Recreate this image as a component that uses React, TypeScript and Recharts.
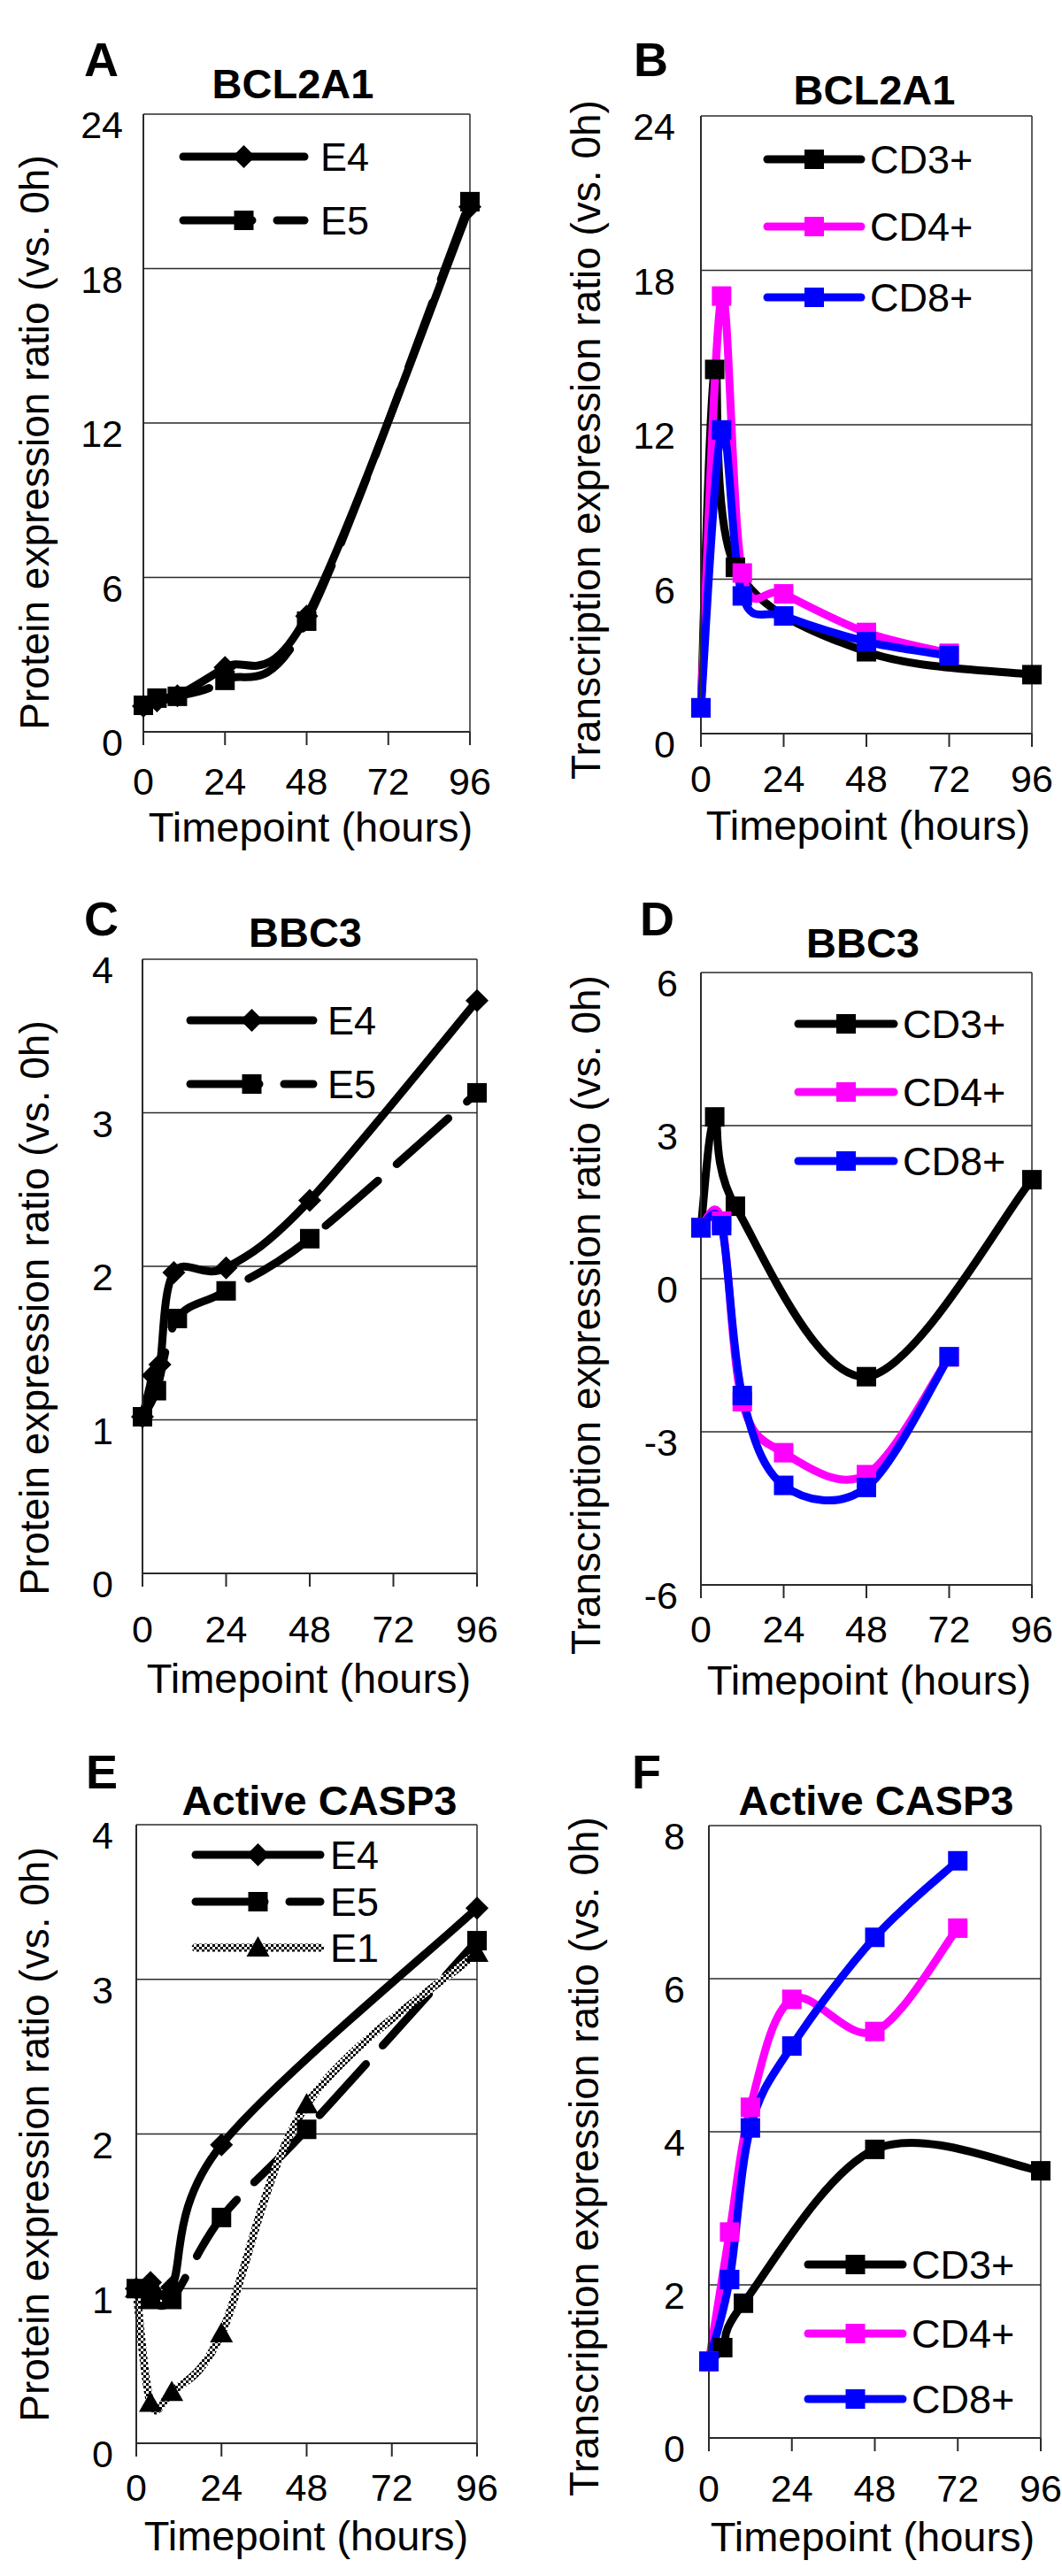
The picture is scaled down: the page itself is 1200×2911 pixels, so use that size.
import React from "react";
import { CartesianGrid, Legend, Line, LineChart, ReferenceLine, XAxis, YAxis } from "recharts";

const FONT = '"Liberation Sans", Arial, Helvetica, sans-serif';

// timepoints (hours)
const eTimes = [0, 4, 10, 24, 48, 96];
const bbc3E4Times = [0, 3, 5, 9, 24, 48, 96];
const casp3E4Times = [0, 4, 10, 24, 96];
const cd3Times = [0, 4, 10, 48, 96];
const cd48Times = [0, 6, 12, 24, 48, 72];

const xTicks = [0, 24, 48, 72, 96];
const ticks24 = [0, 6, 12, 18, 24];
const ticks4 = [0, 1, 2, 3, 4];
const ticks6 = [-6, -3, 0, 3, 6];
const ticks8 = [0, 2, 4, 6, 8];

// A - BCL2A1 protein
const bcl2a1E4 = [1.0, 1.2, 1.4, 2.5, 4.5, 20.4];
const bcl2a1E5 = [1.03, 1.31, 1.38, 2.0, 4.3, 20.6];
// B - BCL2A1 transcription
const bcl2a1CD3 = [1.0, 14.15, 6.46, 3.18, 2.29];
const bcl2a1CD4 = [1.0, 17.0, 6.24, 5.43, 3.93, 3.12];
const bcl2a1CD8 = [1.0, 11.8, 5.35, 4.57, 3.57, 3.03];
// C - BBC3 protein
const bbc3E4 = [1.02, 1.29, 1.36, 1.96, 1.99, 2.43, 3.73];
const bbc3E5 = [1.02, 1.19, 1.66, 1.84, 2.18, 3.13];
// D - BBC3 transcription
const bbc3CD3 = [1.0, 3.17, 1.42, -1.92, 1.94];
const bbc3CD4 = [1.0, 1.13, -2.41, -3.41, -3.84, -1.53];
const bbc3CD8 = [1.0, 1.04, -2.29, -4.05, -4.09, -1.53];
// E - active CASP3 protein
const casp3E4 = [1.0, 1.04, 1.01, 1.93, 3.46];
const casp3E5 = [1.0, 0.93, 0.93, 1.46, 2.03, 3.25];
const casp3E1 = [1.0, 0.26, 0.33, 0.71, 2.19, 3.17];
// F - active CASP3 transcription
const casp3CD3 = [1.0, 1.18, 1.76, 3.77, 3.49];
const casp3CD4 = [1.0, 2.69, 4.32, 5.73, 5.31, 6.66];
const casp3CD8 = [1.0, 2.07, 4.05, 5.12, 6.54, 7.54];

const toRows = (times: number[], vals: number[]) => times.map((t, i) => ({ t, v: vals[i] }));

// excel-like smoothed line (catmull-rom bezier)
const smooth: any = (context: any) => {
    let pts: number[][] = [];
    return {
        areaStart() {},
        areaEnd() {},
        lineStart() {
            pts = [];
        },
        lineEnd() {
            const n = pts.length;
            if (!n) return;
            context.moveTo(pts[0][0], pts[0][1]);
            for (let i = 0; i < n - 1; i++) {
                const p0 = pts[Math.max(i - 1, 0)];
                const p1 = pts[i];
                const p2 = pts[i + 1];
                const p3 = pts[Math.min(i + 2, n - 1)];
                context.bezierCurveTo(
                    p1[0] + (p2[0] - p0[0]) / 6,
                    p1[1] + (p2[1] - p0[1]) / 6,
                    p2[0] - (p3[0] - p1[0]) / 6,
                    p2[1] - (p3[1] - p1[1]) / 6,
                    p2[0],
                    p2[1]
                );
            }
        },
        point(x: number, y: number) {
            pts.push([+x, +y]);
        },
    };
};

type Series = {
    name: string;
    times: number[];
    values: number[];
    color: string;
    marker: "square" | "diamond" | "triangle";
    dash?: string;
    checker?: boolean;
};

function Marker({ kind, cx, cy, color }: { kind: string; cx: number; cy: number; color: string }) {
    if (kind === "diamond")
        return <polygon points={`${cx},${cy - 13} ${cx + 13},${cy} ${cx},${cy + 13} ${cx - 13},${cy}`} fill={color} />;
    if (kind === "triangle")
        return <polygon points={`${cx},${cy - 13} ${cx + 13},${cy + 10} ${cx - 13},${cy + 10}`} fill={color} />;
    return <rect x={cx - 11} y={cy - 11} width={22} height={22} fill={color} />;
}

const E4 = (times: number[], values: number[]): Series => ({ name: "E4", times, values, color: "#000", marker: "diamond" });
const E5 = (times: number[], values: number[]): Series => ({ name: "E5", times, values, color: "#000", marker: "square", dash: "78 28" });
const E1 = (times: number[], values: number[]): Series => ({ name: "E1", times, values, color: "#000", marker: "triangle", checker: true });
const CD3 = (times: number[], values: number[]): Series => ({ name: "CD3+", times, values, color: "#000", marker: "square" });
const CD4 = (times: number[], values: number[]): Series => ({ name: "CD4+", times, values, color: "#ff00ff", marker: "square" });
const CD8 = (times: number[], values: number[]): Series => ({ name: "CD8+", times, values, color: "#0000ff", marker: "square" });

const PROT = "Protein expression ratio (vs. 0h)";
const TRANS = "Transcription expression ratio (vs. 0h)";

const panels = [
    {
        id: "A", ox: 0, oy: 0, w: 600, h: 970,
        plot: { left: 162, right: 531, top: 129, bottom: 827 },
        yDomain: [0, 24], yTicks: ticks24, yGap: 23, xTickDy: 56,
        letter: { x: 95, y: 86 }, title: { text: "BCL2A1", x: 331, y: 111 },
        yTitle: { text: PROT, x: 55, y: 500 }, xTitle: { x: 351, y: 951 },
        legend: { x1: 207, x2: 344, textX: 362, rows: [177, 249] },
        series: [E4(eTimes, bcl2a1E4), E5(eTimes, bcl2a1E5)],
    },
    {
        id: "B", ox: 600, oy: 0, w: 600, h: 970,
        plot: { left: 792, right: 1166, top: 131, bottom: 829 },
        yDomain: [0, 24], yTicks: ticks24, yGap: 29, xTickDy: 51,
        letter: { x: 716, y: 86 }, title: { text: "BCL2A1", x: 988, y: 118 },
        yTitle: { text: TRANS, x: 678, y: 497 }, xTitle: { x: 981, y: 949 },
        legend: { x1: 867, x2: 973, textX: 983, rows: [180, 256, 336] },
        series: [CD3(cd3Times, bcl2a1CD3), CD4(cd48Times, bcl2a1CD4), CD8(cd48Times, bcl2a1CD8)],
    },
    {
        id: "C", ox: 0, oy: 970, w: 600, h: 970,
        plot: { left: 161, right: 539, top: 1084, bottom: 1778 },
        yDomain: [0, 4], yTicks: ticks4, yGap: 33, xTickDy: 63,
        letter: { x: 95, y: 1057 }, title: { text: "BBC3", x: 345, y: 1070 },
        yTitle: { text: PROT, x: 55, y: 1478 }, xTitle: { x: 349, y: 1913 },
        legend: { x1: 215, x2: 354, textX: 370, rows: [1153, 1225] },
        series: [E4(bbc3E4Times, bbc3E4), E5(eTimes, bbc3E5)],
    },
    {
        id: "D", ox: 600, oy: 970, w: 600, h: 970,
        plot: { left: 792, right: 1166, top: 1099, bottom: 1791 },
        yDomain: [-6, 6], yTicks: ticks6, yGap: 26, xTickDy: 50,
        letter: { x: 723, y: 1057 }, title: { text: "BBC3", x: 975, y: 1082 },
        yTitle: { text: TRANS, x: 678, y: 1486 }, xTitle: { x: 982, y: 1915 },
        legend: { x1: 902, x2: 1010, textX: 1020, rows: [1157, 1234, 1312] },
        series: [CD3(cd3Times, bbc3CD3), CD4(cd48Times, bbc3CD4), CD8(cd48Times, bbc3CD8)],
    },
    {
        id: "E", ox: 0, oy: 1940, w: 600, h: 971,
        plot: { left: 154, right: 539, top: 2062, bottom: 2761 },
        yDomain: [0, 4], yTicks: ticks4, yGap: 26, xTickDy: 50,
        letter: { x: 97, y: 2021 }, title: { text: "Active CASP3", x: 361, y: 2051 },
        yTitle: { text: PROT, x: 55, y: 2412 }, xTitle: { x: 346, y: 2882 },
        legend: { x1: 221, x2: 362, textX: 373, rows: [2096, 2149, 2201] },
        series: [E4(casp3E4Times, casp3E4), E5(eTimes, casp3E5), E1(eTimes, casp3E1)],
    },
    {
        id: "F", ox: 600, oy: 1940, w: 600, h: 971,
        plot: { left: 801, right: 1176, top: 2063, bottom: 2755 },
        yDomain: [0, 8], yTicks: ticks8, yGap: 27, xTickDy: 57,
        letter: { x: 714, y: 2021 }, title: { text: "Active CASP3", x: 990, y: 2051 },
        yTitle: { text: TRANS, x: 676, y: 2437 }, xTitle: { x: 986, y: 2883 },
        legend: { x1: 913, x2: 1020, textX: 1030, rows: [2559, 2637, 2711] },
        series: [CD3(cd3Times, casp3CD3), CD4(cd48Times, casp3CD4), CD8(cd48Times, casp3CD8)],
    },
];

const Y_W = 60;
const X_H = 60;
const TICK_FS = 43;
const X_TICK = 15;

function CheckerDef({ id }: { id: string }) {
    return (
        <pattern id={id} width={6} height={6} patternUnits="userSpaceOnUse">
            <rect width={6} height={6} fill="#fff" />
            <rect width={3} height={3} fill="#000" />
            <rect x={3} y={3} width={3} height={3} fill="#000" />
        </pattern>
    );
}

function Panel({ p }: { p: (typeof panels)[number] }) {
    const margin = {
        top: p.plot.top - p.oy,
        left: p.plot.left - p.ox - Y_W,
        right: p.ox + p.w - p.plot.right,
        bottom: p.oy + p.h - p.plot.bottom - X_H,
    };
    const lg = p.legend;
    const lgLeft = lg.x1 - p.ox - 20;
    const lgTop = lg.rows[0] - p.oy - 40;
    const lgW = 300;
    const lgH = lg.rows[lg.rows.length - 1] - lg.rows[0] + 80;
    const checkerId = `checker-${p.id}`;

    const renderLegend = () => (
        <svg width={lgW} height={lgH} style={{ display: "block", overflow: "visible" }}>
            <defs>
                <CheckerDef id={`${checkerId}-lg`} />
            </defs>
            {p.series.map((s, i) => {
                const y = lg.rows[i] - p.oy - lgTop;
                const x1 = lg.x1 - p.ox - lgLeft;
                const x2 = lg.x2 - p.ox - lgLeft;
                return (
                    <g key={s.name}>
                        <line
                            x1={x1}
                            x2={x2}
                            y1={y}
                            y2={y}
                            stroke={s.checker ? `url(#${checkerId}-lg)` : s.color}
                            strokeWidth={9}
                            strokeLinecap="round"
                            strokeDasharray={s.dash}
                        />
                        <Marker kind={s.marker} cx={(x1 + x2) / 2} cy={y} color={s.color} />
                        <text
                            x={lg.textX - p.ox - lgLeft}
                            y={y + 16}
                            fontFamily={FONT}
                            fontSize={45}
                            fill="#000"
                        >
                            {s.name}
                        </text>
                    </g>
                );
            })}
        </svg>
    );

    const plotBottomLocal = p.plot.bottom - p.oy;

    return (
        <div style={{ position: "absolute", left: p.ox, top: p.oy, width: p.w, height: p.h }}>
            <LineChart width={p.w} height={p.h} margin={margin}>
                <defs>
                    <CheckerDef id={checkerId} />
                </defs>
                <CartesianGrid vertical={false} stroke="#2a2a2a" strokeWidth={1.5} />
                <XAxis
                    type="number"
                    dataKey="t"
                    domain={[0, 96]}
                    ticks={xTicks}
                    interval={0}
                    height={X_H}
                    stroke="#2a2a2a"
                    strokeWidth={2}
                    tickSize={X_TICK}
                    tickMargin={0}
                    tick={({ x, payload }: any) => (
                        <text
                            x={x}
                            y={plotBottomLocal + p.xTickDy + 0.358 * TICK_FS}
                            textAnchor="middle"
                            fontFamily={FONT}
                            fontSize={TICK_FS}
                            fill="#000"
                        >
                            {payload.value}
                        </text>
                    )}
                />
                <YAxis
                    type="number"
                    domain={p.yDomain}
                    ticks={p.yTicks}
                    interval={0}
                    width={Y_W}
                    stroke="#2a2a2a"
                    strokeWidth={2}
                    tickLine={false}
                    tickSize={0}
                    tickMargin={p.yGap}
                    tick={({ x, y, payload }: any) => (
                        <text
                            x={x}
                            y={y + 12 + 0.358 * TICK_FS}
                            textAnchor="end"
                            fontFamily={FONT}
                            fontSize={TICK_FS}
                            fill="#000"
                        >
                            {payload.value}
                        </text>
                    )}
                />
                <ReferenceLine x={96} stroke="#2a2a2a" strokeWidth={1.5} />
                {p.series.map((s) => (
                    <Line
                        key={s.name}
                        data={toRows(s.times, s.values)}
                        dataKey="v"
                        name={s.name}
                        type={smooth}
                        stroke={s.checker ? `url(#${checkerId})` : s.color}
                        strokeWidth={9}
                        strokeLinecap="round"
                        strokeLinejoin="round"
                        strokeDasharray={s.dash}
                        isAnimationActive={false}
                        activeDot={false}
                        dot={(dp: any) => (
                            <Marker key={`${s.name}-${dp.index}`} kind={s.marker} cx={dp.cx} cy={dp.cy} color={s.color} />
                        )}
                    />
                ))}
                <Legend
                    layout="vertical"
                    align="center"
                    verticalAlign="middle"
                    content={renderLegend}
                    wrapperStyle={{ left: lgLeft, top: lgTop, width: lgW, height: lgH }}
                />
            </LineChart>
        </div>
    );
}

export default function App() {
    return (
        <div
            style={{
                position: "absolute",
                left: 0,
                top: 0,
                width: 1200,
                height: 2911,
                background: "#fff",
                overflow: "hidden",
            }}
        >
            {panels.map((p) => (
                <Panel key={p.id} p={p} />
            ))}
            <svg
                width={1200}
                height={2911}
                style={{ position: "absolute", left: 0, top: 0, pointerEvents: "none" }}
            >
                {panels.map((p) => (
                    <g key={p.id} fontFamily={FONT} fill="#000">
                        <text x={p.letter.x} y={p.letter.y} fontSize={54} fontWeight={700}>
                            {p.id}
                        </text>
                        <text x={p.title.x} y={p.title.y} fontSize={47} fontWeight={700} textAnchor="middle">
                            {p.title.text}
                        </text>
                        <text
                            transform={`translate(${p.yTitle.x},${p.yTitle.y}) rotate(-90)`}
                            fontSize={46}
                            textAnchor="middle"
                        >
                            {p.yTitle.text}
                        </text>
                        <text x={p.xTitle.x} y={p.xTitle.y} fontSize={47} textAnchor="middle">
                            Timepoint (hours)
                        </text>
                    </g>
                ))}
            </svg>
        </div>
    );
}
